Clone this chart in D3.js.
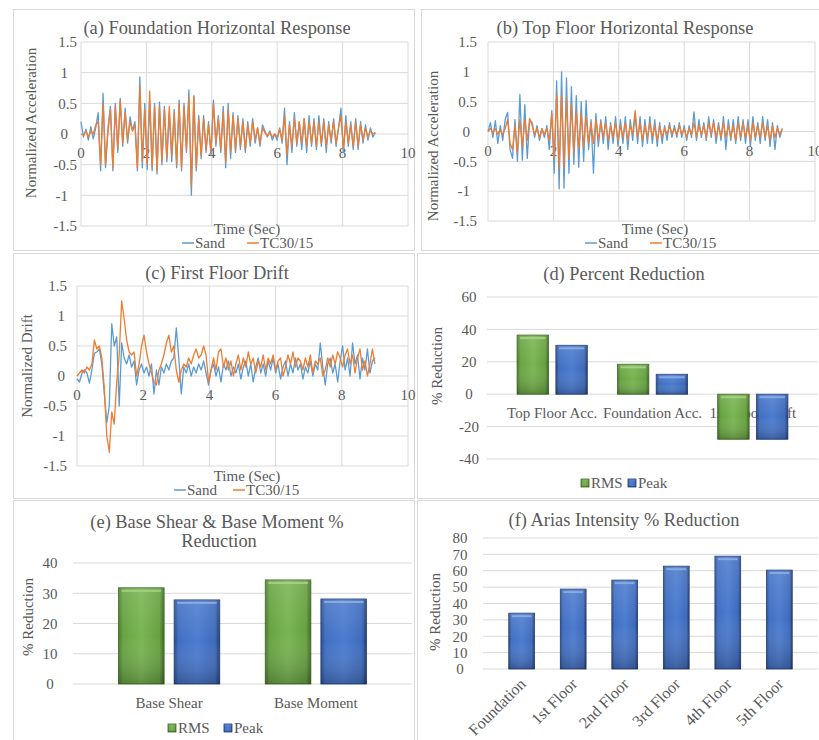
<!DOCTYPE html>
<html>
<head>
<meta charset="utf-8">
<script src="https://cdn.jsdelivr.net/npm/d3@7"></script>
<style>
  body { margin: 0; background: #ffffff; }
  svg { display: block; font-family: "Liberation Serif", "Times New Roman", serif; }
  text { fill: #595959; }
</style>
</head>
<body>
<svg id="chart" width="819" height="740" font-family="Liberation Serif, Times New Roman, serif"></svg>
<script>
// ---------- data ----------
const sampleStep = 0.075;            // seconds between samples
const sampleCount = 121;             // 0 .. 9 s
const accelTicks = [-1.5, -1, -0.5, 0, 0.5, 1, 1.5];
const timeTicks = [0, 2, 4, 6, 8, 10];

// (a) foundation horizontal acceleration (normalized)
const foundationSand = [0.2,-0.05,0.08,-0.1,0.12,-0.08,0.1,0.35,-0.6,0.66,
 -0.55,0.1,0.45,-0.6,0.5,-0.3,0.58,-0.2,0.42,-0.15,
 0.28,0.05,0.2,-0.6,0.93,-0.55,0.5,-0.58,0.55,-0.6,
 0.5,-0.65,0.52,-0.5,0.45,-0.45,0.35,-0.45,0.4,-0.55,
 0.55,-0.6,0.5,-0.3,0.72,-1.0,0.62,-0.6,0.3,-0.4,
 0.3,-0.3,0.2,-0.35,0.55,-0.2,0.3,-0.3,0.45,-0.55,
 0.5,-0.4,0.35,-0.3,0.3,-0.25,0.25,-0.3,0.2,-0.2,
 0.25,-0.15,0.1,-0.2,0.15,0.05,-0.05,0.05,-0.1,0.0,
 -0.1,0.1,-0.15,0.42,-0.5,0.2,-0.3,0.35,-0.2,0.2,
 -0.25,0.25,-0.3,0.3,-0.2,0.25,-0.25,0.3,-0.2,0.25,
 -0.3,0.2,-0.15,0.25,-0.2,0.1,0.42,-0.3,0.3,-0.2,
 0.2,-0.25,0.25,-0.25,0.2,-0.15,0.15,-0.1,0.1,-0.05,
 0.02];
const foundationTC = [0.0,-0.02,0.05,-0.05,0.05,0.0,0.15,0.2,-0.5,0.5,
 -0.5,0.05,0.4,-0.55,0.45,-0.25,0.55,-0.15,0.35,-0.1,
 0.2,0.05,0.15,-0.55,0.78,-0.45,0.4,-0.5,0.7,-0.55,
 0.45,-0.6,0.45,-0.45,0.4,-0.4,0.45,-0.35,0.35,-0.5,
 0.5,-0.55,0.45,-0.25,0.6,-0.85,0.62,-0.55,0.25,-0.35,
 0.25,-0.25,0.15,-0.3,0.5,-0.15,0.25,-0.25,0.35,-0.45,
 0.4,-0.3,0.3,-0.25,0.25,-0.2,0.2,-0.25,0.15,-0.15,
 0.2,-0.1,0.1,-0.15,0.1,0.02,-0.03,0.03,-0.05,0.0,
 -0.05,0.08,-0.1,0.3,-0.35,0.15,-0.2,0.25,-0.15,0.2,
 -0.15,0.25,-0.2,0.2,-0.15,0.2,-0.2,0.2,-0.15,0.2,
 -0.2,0.15,-0.1,0.2,-0.15,0.1,0.3,-0.25,0.2,-0.15,
 0.15,-0.2,0.2,-0.2,0.15,-0.1,0.1,-0.05,0.05,0.0,
 0.03];

// (b) top floor horizontal acceleration (normalized)
const topFloorSand = [0.0,0.15,-0.1,0.18,-0.2,0.1,-0.15,0.2,0.32,-0.3,
 -0.45,0.2,-0.5,0.62,-0.48,0.45,-0.45,0.2,0.15,-0.1,
 0.1,-0.15,0.05,-0.1,0.1,-0.3,0.35,-0.7,0.85,-0.96,
 1.0,-0.95,0.9,-0.7,0.75,-0.55,0.6,-0.6,0.5,-0.5,
 0.52,-0.3,0.2,-0.7,0.3,-0.25,0.2,-0.2,0.25,-0.3,
 0.15,-0.2,0.25,-0.25,0.2,-0.2,0.25,-0.3,0.2,-0.15,
 0.3,-0.2,0.25,-0.25,0.2,-0.2,0.25,-0.2,0.2,-0.25,
 0.15,-0.2,0.1,-0.15,0.15,-0.1,0.1,-0.1,0.15,-0.1,
 0.1,-0.15,0.1,-0.1,0.33,-0.15,0.2,-0.1,0.15,-0.15,
 0.25,-0.1,0.2,-0.2,0.15,-0.15,0.25,-0.3,0.2,-0.15,
 0.2,-0.2,0.25,-0.15,0.2,-0.2,0.2,-0.25,0.25,-0.15,
 0.15,-0.2,0.25,-0.15,0.2,-0.25,0.15,-0.3,0.1,-0.1,
 0.05];
const topFloorTC = [0.0,0.05,-0.02,0.05,-0.05,0.03,-0.05,0.05,0.2,-0.2,
 -0.3,0.1,-0.35,0.2,-0.25,0.2,-0.15,0.22,0.1,-0.05,
 0.05,-0.1,0.05,-0.05,0.05,-0.15,0.3,-0.45,0.62,-0.62,
 0.6,-0.6,0.55,-0.45,0.45,-0.35,0.35,-0.3,0.3,-0.25,
 0.25,-0.2,0.15,-0.2,0.2,-0.15,0.15,-0.1,0.15,-0.15,
 0.1,-0.1,0.15,-0.15,0.1,-0.1,0.15,-0.15,0.1,-0.05,
 0.35,-0.1,0.15,-0.15,0.1,-0.1,0.15,-0.1,0.1,-0.15,
 0.1,-0.1,0.05,-0.05,0.1,-0.05,0.05,-0.05,0.1,-0.05,
 0.05,-0.1,0.05,-0.05,0.15,-0.1,0.1,-0.05,0.1,-0.1,
 0.15,-0.05,0.15,-0.1,0.1,-0.1,0.15,-0.1,0.1,-0.1,
 0.1,-0.15,0.15,-0.1,0.15,-0.1,0.1,-0.15,0.15,-0.1,
 0.1,-0.1,0.15,-0.1,0.1,-0.15,0.1,-0.1,0.05,-0.05,
 0.05];

// (c) first floor drift (normalized)
const driftSand = [-0.05,-0.1,0.05,0.1,0.05,-0.12,0.1,0.38,0.4,0.45,
 0.2,-0.3,-0.78,-0.5,0.87,0.5,0.65,-0.5,0.55,0.3,
 0.2,0.35,0.15,0.25,-0.15,0.1,0.2,0.05,0.15,0.0,
 0.2,-0.3,0.1,-0.15,0.15,0.05,0.2,0.1,0.25,0.3,
 0.8,0.3,-0.3,0.15,0.05,0.2,0.0,0.15,0.05,0.2,
 0.1,0.25,0.05,-0.15,0.1,0.2,0.0,0.15,-0.1,0.2,
 0.1,0.25,0.0,0.15,0.05,0.2,-0.05,0.15,0.25,0.0,
 0.2,-0.1,0.15,0.3,0.05,0.2,0.0,0.25,0.1,0.3,
 0.05,0.2,-0.05,0.15,0.25,0.0,0.2,0.05,0.3,0.1,
 0.2,-0.05,0.15,0.05,0.25,0.0,0.2,0.1,0.55,0.15,
 -0.15,0.2,0.3,0.05,0.2,-0.1,0.25,0.5,0.1,0.3,
 0.0,0.55,0.2,0.35,-0.05,0.3,0.1,0.45,0.05,0.25,
 0.3];
const driftTC = [0.0,0.05,0.1,0.05,0.15,0.1,0.2,0.6,0.45,0.5,
 0.3,-0.2,-1.0,-1.27,-0.6,-0.8,-0.1,0.35,1.25,0.95,
 0.6,0.4,0.35,0.4,0.0,0.2,0.5,0.68,0.4,0.2,
 0.05,-0.1,-0.15,0.1,0.2,0.35,0.55,0.68,0.4,0.5,
 0.1,-0.1,0.1,0.2,0.15,0.3,0.2,0.35,0.45,0.3,
 0.35,0.5,0.35,-0.1,0.1,0.3,0.1,0.4,0.45,0.15,
 0.3,0.1,0.25,0.0,0.2,0.35,0.1,0.3,0.15,0.4,
 0.2,0.3,0.05,0.25,0.15,0.35,0.1,0.3,0.2,0.35,
 0.1,0.25,0.3,0.0,0.15,0.35,0.2,0.4,0.15,0.3,
 0.25,0.1,0.3,0.15,0.35,0.05,0.25,0.2,0.3,0.0,
 0.1,0.3,0.15,0.35,0.2,0.4,0.3,0.15,0.35,0.45,
 0.2,0.35,0.05,0.3,0.45,0.1,0.25,0.0,0.2,0.45,
 0.2];

// (d) percent reduction
const reductionCategories = ["Top Floor Acc.", "Foundation Acc.", "1st Floor Drift"];
const reductionRMS = [36.5, 18.5, -27.8];
const reductionPeak = [30.2, 12.3, -27.8];
const reductionTicks = [-40, -20, 0, 20, 40, 60];

// (e) base shear & base moment
const baseCategories = ["Base Shear", "Base Moment"];
const baseRMS = [31.8, 34.4];
const basePeak = [27.8, 28.1];
const baseTicks = [0, 10, 20, 30, 40];

// (f) Arias intensity
const ariasCategories = ["Foundation", "1st Floor", "2nd Floor", "3rd Floor", "4th Floor", "5th Floor"];
const ariasReduction = [34.1, 48.8, 54.3, 62.8, 68.9, 60.4];
const ariasTicks = [0, 10, 20, 30, 40, 50, 60, 70, 80];

const seriesNames = ["Sand", "TC30/15"];
const sampleTimes = d3.range(sampleCount).map(i => i * sampleStep);

// ---------- styling ----------
const GRID = "#d9d9d9";
const BLUE_LINE = "#5b9bd5";
const ORANGE_LINE = "#ed7d31";
const TICK_FONT = 15, TITLE_FONT = 18.4;

const svg = d3.select("#chart");
const defs = svg.append("defs");

function gradient(id, horizontal, stops) {
  const gr = defs.append("linearGradient").attr("id", id)
    .attr("x1", 0).attr("y1", 0).attr("x2", horizontal ? 1 : 0).attr("y2", horizontal ? 0 : 1);
  stops.forEach(s => gr.append("stop").attr("offset", s[0]).attr("stop-color", s[1]).attr("stop-opacity", s[2] == null ? 1 : s[2]));
}
gradient("barGreen", true, [[0, "#4a7a2b"], [0.1, "#68a342"], [0.5, "#79b552"], [0.9, "#66a040"], [1, "#3c6723"]]);
gradient("barBlue", true, [[0, "#2a4c8b"], [0.1, "#416fc1"], [0.5, "#4c7cd0"], [0.9, "#3e6aba"], [1, "#213b71"]]);
gradient("barShade", false, [[0, "#ffffff", 0.12], [0.5, "#ffffff", 0], [1, "#000000", 0.22]]);

const GREEN = { fill: "url(#barGreen)", edge: "#3a6421", hi: "#a9d48a" };
const BLUE = { fill: "url(#barBlue)", edge: "#1f3a6e", hi: "#8fb0e6" };

function bevelRect(g, x, y, w, h, pal) {
  g.append("rect").attr("x", x).attr("y", y).attr("width", w).attr("height", h)
    .attr("fill", pal.fill).attr("stroke", pal.edge).attr("stroke-width", 0.8);
  g.append("rect").attr("x", x).attr("y", y).attr("width", w).attr("height", h)
    .attr("fill", "url(#barShade)");
  if (h > 6 && w > 8) {
    g.append("rect").attr("x", x + 3).attr("y", y + 2).attr("width", w - 6).attr("height", 2)
      .attr("fill", pal.hi).attr("opacity", 0.85);
  }
}

function frame(b) {
  svg.append("rect").attr("x", b[0] + 0.5).attr("y", b[1] + 0.5)
    .attr("width", b[2]).attr("height", b[3])
    .attr("fill", "#ffffff").attr("stroke", GRID).attr("stroke-width", 1);
}

function label(g, txt, x, y, size, anchor, rotate) {
  const t = g.append("text").attr("x", x).attr("y", y).attr("dy", "0.35em")
    .attr("font-size", size).attr("text-anchor", anchor || "middle").text(txt);
  if (rotate) t.attr("transform", `rotate(${rotate},${x},${y})`);
  return t;
}

// ---------- time-history panels ----------
function linePanel(p, sand, tc) {
  frame(p.box);
  const g = svg.append("g");
  const x = d3.scaleLinear().domain([0, 10]).range([p.x0, p.x1]);
  const y = d3.scaleLinear().domain([-1.5, 1.5]).range([p.yBot, p.yTop]);

  g.selectAll(null).data(accelTicks).join("line")
    .attr("x1", p.x0).attr("x2", p.x1).attr("y1", d => y(d)).attr("y2", d => y(d))
    .attr("stroke", GRID).attr("stroke-width", 1);
  g.selectAll(null).data(timeTicks).join("line")
    .attr("x1", d => x(d)).attr("x2", d => x(d)).attr("y1", p.yTop).attr("y2", p.yBot)
    .attr("stroke", GRID).attr("stroke-width", 1);

  g.selectAll(null).data(accelTicks).join("text")
    .attr("x", d => Number.isInteger(d) ? p.intX : p.decX).attr("y", d => y(d)).attr("dy", "0.35em")
    .attr("text-anchor", "end").attr("font-size", TICK_FONT).text(d => String(d));
  g.selectAll(null).data(timeTicks).join("text")
    .attr("x", d => x(d)).attr("y", y(0) + 19).attr("dy", "0.35em")
    .attr("text-anchor", "middle").attr("font-size", TICK_FONT).text(d => String(d));

  const line = d3.line().x((d, i) => x(sampleTimes[i])).y(d => y(d));
  g.append("path").datum(sand).attr("d", line).attr("fill", "none")
    .attr("stroke", BLUE_LINE).attr("stroke-width", 1.3).attr("stroke-linejoin", "round");
  g.append("path").datum(tc).attr("d", line).attr("fill", "none")
    .attr("stroke", ORANGE_LINE).attr("stroke-width", 1.3).attr("stroke-linejoin", "round");

  label(g, p.title, p.titleX, p.titleY, TITLE_FONT);
  label(g, p.yTitle, p.yTitleX, p.yTitleY, TICK_FONT, "middle", -90);
  label(g, "Time (Sec)", p.xTitleX, p.xTitleY, TICK_FONT);

  [BLUE_LINE, ORANGE_LINE].forEach((c, i) => {
    const lx = p.legX[i];
    g.append("line").attr("x1", lx).attr("x2", lx + 12).attr("y1", p.legY).attr("y2", p.legY)
      .attr("stroke", c).attr("stroke-width", 1.5);
    label(g, seriesNames[i], lx + 13, p.legY, TICK_FONT, "start");
  });
}

linePanel({
  box: [13, 9, 401, 241], x0: 81, x1: 408, yTop: 42, yBot: 226,
  intX: 68, decX: 77,
  title: "(a) Foundation Horizontal Response", titleX: 217, titleY: 28,
  yTitle: "Normalized Acceleration", yTitleX: 31, yTitleY: 123,
  xTitleX: 247, xTitleY: 229, legY: 243, legX: [182, 247]
}, foundationSand, foundationTC);

linePanel({
  box: [421, 9, 400, 241], x0: 488, x1: 815, yTop: 42, yBot: 221,
  intX: 470, decX: 477,
  title: "(b) Top Floor Horizontal Response", titleX: 625, titleY: 28,
  yTitle: "Normalized Acceleration", yTitleX: 433, yTitleY: 146,
  xTitleX: 655, xTitleY: 229, legY: 243, legX: [585, 650]
}, topFloorSand, topFloorTC);

linePanel({
  box: [13, 253, 401, 245], x0: 77, x1: 408, yTop: 286, yBot: 466,
  intX: 65, decX: 67,
  title: "(c) First Floor Drift", titleX: 217, titleY: 273,
  yTitle: "Normalized Drift", yTitleX: 27, yTitleY: 366,
  xTitleX: 247, xTitleY: 476, legY: 490, legX: [174, 233]
}, driftSand, driftTC);

// ---------- bar panels ----------
function barLegend(g, y, xs) {
  [GREEN, BLUE].forEach((pal, i) => {
    bevelRect(g, xs[i], y - 4, 8, 8, pal);
    label(g, ["RMS", "Peak"][i], xs[i] + 10, y, TICK_FONT, "start");
  });
}

// (d) percent reduction
(function () {
  frame([417, 253, 404, 245]);
  const g = svg.append("g");
  const y = d3.scaleLinear().domain([-40, 60]).range([459, 297]);
  const x = d3.scaleBand().domain(reductionCategories).range([487, 818]).padding(0.3);
  const xi = d3.scaleBand().domain(["RMS", "Peak"]).range([0, x.bandwidth()]).paddingInner(0.19);

  g.selectAll(null).data(reductionTicks).join("line")
    .attr("x1", 487).attr("x2", 818).attr("y1", d => y(d)).attr("y2", d => y(d))
    .attr("stroke", GRID);
  g.selectAll(null).data(reductionTicks).join("text")
    .attr("x", 469).attr("y", d => y(d)).attr("dy", "0.35em").attr("text-anchor", "middle")
    .attr("font-size", TICK_FONT).text(d => String(d));
  reductionCategories.forEach(c => label(g, c, x(c) + x.bandwidth() / 2, 413, TICK_FONT));

  reductionCategories.forEach((c, i) => {
    [[reductionRMS[i], "RMS", GREEN], [reductionPeak[i], "Peak", BLUE]].forEach(([v, k, pal]) => {
      const top = Math.min(y(v), y(0)), h = Math.abs(y(v) - y(0));
      bevelRect(g, x(c) + xi(k), top, xi.bandwidth(), h, pal);
    });
  });

  label(g, "(d) Percent Reduction", 624, 274, TITLE_FONT);
  label(g, "% Reduction", 437, 366, TICK_FONT, "middle", -90);
  barLegend(g, 483, [581, 628]);
})();

// (e) base shear & base moment
(function () {
  frame([13, 500, 401, 242]);
  const g = svg.append("g");
  const y = d3.scaleLinear().domain([0, 40]).range([684, 563]);
  const x = d3.scaleBand().domain(baseCategories).range([73, 412]).padding(0.31);
  const xi = d3.scaleBand().domain(["RMS", "Peak"]).range([0, x.bandwidth()]).paddingInner(0.18);

  g.selectAll(null).data(baseTicks).join("line")
    .attr("x1", 73).attr("x2", 412).attr("y1", d => y(d)).attr("y2", d => y(d))
    .attr("stroke", GRID);
  g.selectAll(null).data(baseTicks).join("text")
    .attr("x", 50).attr("y", d => y(d)).attr("dy", "0.35em").attr("text-anchor", "middle")
    .attr("font-size", TICK_FONT).text(d => String(d));

  baseCategories.forEach((c, i) => {
    [[baseRMS[i], "RMS", GREEN], [basePeak[i], "Peak", BLUE]].forEach(([v, k, pal]) => {
      bevelRect(g, x(c) + xi(k), y(v), xi.bandwidth(), y(0) - y(v), pal);
    });
    label(g, c, x(c) + x.bandwidth() / 2, 703, TICK_FONT);
  });

  label(g, "(e) Base Shear & Base Moment %", 217, 522, TITLE_FONT);
  label(g, "Reduction", 219, 541, TITLE_FONT);
  label(g, "% Reduction", 28, 617, TICK_FONT, "middle", -90);
  barLegend(g, 728, [168, 224]);
})();

// (f) Arias intensity
(function () {
  frame([417, 500, 404, 242]);
  const g = svg.append("g");
  const y = d3.scaleLinear().domain([0, 80]).range([669, 538]);
  const x = d3.scaleBand().domain(ariasCategories).range([483, 818]).padding(0.5);

  g.selectAll(null).data(ariasTicks).join("line")
    .attr("x1", 483).attr("x2", 818).attr("y1", d => y(d)).attr("y2", d => y(d))
    .attr("stroke", GRID);
  g.selectAll(null).data(ariasTicks).join("text")
    .attr("x", 460).attr("y", d => y(d)).attr("dy", "0.35em").attr("text-anchor", "middle")
    .attr("font-size", TICK_FONT).text(d => String(d));

  ariasCategories.forEach((c, i) => {
    bevelRect(g, x(c), y(ariasReduction[i]), x.bandwidth(), y(0) - y(ariasReduction[i]), BLUE);
    const cx = x(c) + x.bandwidth() / 2 + 5;
    g.append("text").attr("x", cx).attr("y", 685).attr("text-anchor", "end")
      .attr("font-size", 16).attr("transform", `rotate(-45,${cx},685)`).text(c);
  });

  label(g, "(f) Arias Intensity % Reduction", 624, 520, TITLE_FONT);
  label(g, "% Reduction", 435, 612, TICK_FONT, "middle", -90);
})();
</script>
</body>
</html>
